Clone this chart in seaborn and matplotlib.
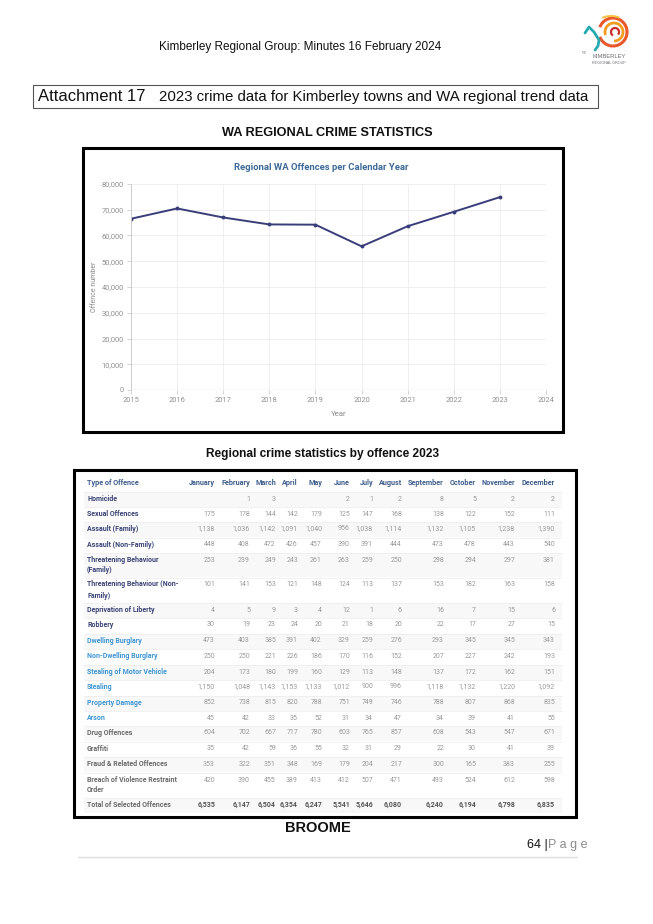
import matplotlib.pyplot as plt
import matplotlib.patches as mpatches
import seaborn as sb
import numpy as np
import pandas as pd

# --- data ---
years = [2015, 2016, 2017, 2018, 2019, 2020, 2021, 2022, 2023]
offences_per_year = [66500, 70500, 67000, 64300, 64200, 55800, 63600, 69200, 74900]

months = ['January', 'February', 'March', 'April', 'May', 'June', 'July',
          'August', 'September', 'October', 'November', 'December']
offence_types = ['Homicide', 'Sexual Offences', 'Assault (Family)', 'Assault (Non-Family)',
                 'Threatening Behaviour\n(Family)', 'Threatening Behaviour (Non-\nFamily)',
                 'Deprivation of Liberty', 'Robbery', 'Dwelling Burglary',
                 'Non-Dwelling Burglary', 'Stealing of Motor Vehicle', 'Stealing',
                 'Property Damage', 'Arson', 'Drug Offences', 'Graffiti',
                 'Fraud & Related Offences', 'Breach of Violence Restraint\nOrder',
                 'Total of Selected Offences']
homicide = [None, 1, 3, None, None, 2, 1, 2, 8, 5, 2, 2]
sexual = [175, 178, 144, 142, 179, 125, 147, 168, 138, 122, 152, 111]
assault_fam = [1138, 1036, 1142, 1091, 1040, 956, 1038, 1114, 1132, 1105, 1238, 1390]
assault_nonfam = [448, 408, 472, 426, 457, 390, 391, 444, 473, 478, 443, 540]
threat_fam = [253, 239, 249, 243, 261, 263, 259, 250, 298, 294, 297, 381]
threat_nonfam = [101, 141, 153, 121, 148, 124, 113, 137, 153, 182, 163, 158]
deprivation = [4, 5, 9, 3, 4, 12, 1, 6, 16, 7, 15, 6]
robbery = [30, 19, 23, 24, 20, 21, 18, 20, 22, 17, 27, 15]
dwelling = [473, 403, 385, 391, 402, 329, 259, 276, 293, 345, 345, 343]
non_dwelling = [250, 250, 221, 226, 186, 170, 116, 152, 207, 227, 242, 193]
motor_vehicle = [204, 173, 180, 199, 160, 129, 113, 148, 137, 172, 162, 151]
stealing = [1150, 1048, 1143, 1153, 1133, 1012, 900, 996, 1118, 1132, 1220, 1092]
property_damage = [852, 738, 815, 820, 788, 751, 749, 746, 788, 807, 868, 835]
arson = [45, 42, 33, 35, 52, 31, 34, 47, 34, 39, 41, 55]
drug = [604, 702, 667, 717, 780, 603, 765, 857, 608, 543, 547, 671]
graffiti = [35, 42, 59, 36, 55, 32, 31, 29, 22, 30, 41, 39]
fraud = [353, 322, 351, 348, 169, 179, 204, 217, 300, 165, 383, 255]
breach = [420, 390, 455, 389, 413, 412, 507, 471, 493, 524, 612, 598]
total = [6535, 6147, 6504, 6354, 6247, 5541, 5646, 6080, 6240, 6194, 6798, 6835]

tabel = pd.DataFrame([homicide, sexual, assault_fam, assault_nonfam, threat_fam, threat_nonfam,
                      deprivation, robbery, dwelling, non_dwelling, motor_vehicle, stealing,
                      property_damage, arson, drug, graffiti, fraud, breach, total],
                     index=offence_types, columns=months)

W, H = 653, 924
fig = plt.figure(figsize=(W / 100, H / 100), dpi=100)
sb.set_style('white')
plt.rcParams['font.family'] = ['Liberation Sans', 'DejaVu Sans']


def px_axes(x0, y0, x1, y1):
    return fig.add_axes([x0 / W, 1 - y1 / H, (x1 - x0) / W, (y1 - y0) / H])


def ftext(x, y, s, **kw):
    fig.text(x / W, 1 - y / H, s, **kw)


# --- page header ---
ftext(300, 47, 'Kimberley Regional Group: Minutes 16 February 2024', fontsize=8.5,
      ha='center', va='center', color='#111111')

# logo (rough drawing)
lg = px_axes(575, 10, 640, 72)
lg.set_xlim(0, 65)
lg.set_ylim(62, 0)
lg.set_aspect('equal')
lg.axis('off')
lg.add_patch(mpatches.Arc((38, 22), 28, 28, theta1=200, theta2=520, color='#e8582b', lw=2.2))
lg.add_patch(mpatches.Arc((39, 22), 18, 18, theta1=160, theta2=450, color='#f39c1f', lw=2))
lg.add_patch(mpatches.Arc((40, 22), 8, 8, theta1=120, theta2=400, color='#c9302c', lw=1.6))
lg.add_patch(mpatches.Arc((36, 11), 22, 10, theta1=200, theta2=340, color='#f6c342', lw=1.4))
lg.plot([10, 14, 19, 24, 23, 20], [23, 17, 22, 30, 36, 40], color='#27a9b0', lw=2)
lg.text(34, 47, 'KIMBERLEY', fontsize=4.2, color='#6d6e71', ha='center', va='center')
lg.text(34, 53, 'REGIONAL GROUP', fontsize=2.7, color='#6d6e71', ha='center', va='center')
lg.text(9, 43, 'THE', fontsize=1.8, color='#6d6e71', ha='center', va='center')

# attachment box
fig.patches.append(mpatches.Rectangle((33 / W, 1 - 108 / H), 565 / W, 23 / H,
                                      transform=fig.transFigure, fill=False,
                                      edgecolor='#555555', lw=0.8))
ftext(38, 96.5, 'Attachment 17', fontsize=12, ha='left', va='center', color='#111111')
ftext(159, 97, '2023 crime data for Kimberley towns and WA regional trend data', fontsize=10.8,
      ha='left', va='center', color='#111111')

ftext(327, 133, 'WA REGIONAL CRIME STATISTICS', fontsize=9.2, fontweight='bold',
      ha='center', va='center', color='#111111')

# --- chart box ---
fig.patches.append(mpatches.Rectangle((83 / W, 1 - 432 / H), 480 / W, 284 / H,
                                      transform=fig.transFigure, fill=False,
                                      edgecolor='black', lw=2.2))
ftext(321, 168, 'Regional WA Offences per Calendar Year', fontsize=6.8, fontweight='bold',
      family=['Roboto', 'DejaVu Sans'], ha='center', va='center', color='#3d6a98')

ax = px_axes(131, 184, 546, 390)
sb.lineplot(x=years, y=offences_per_year, ax=ax, color='#393d7a', marker='o', markersize=2.8,
            markeredgewidth=0, linewidth=1.4)
ax.set_xlim(2015, 2024)
ax.set_ylim(0, 80000)
ax.set_xticks(range(2015, 2025))
ax.set_yticks(range(0, 80001, 10000))
ax.set_yticklabels(['{:,}'.format(v) for v in range(0, 80001, 10000)])
ax.grid(True, color='#ececec', lw=0.6)
for s in ax.spines.values():
    s.set_visible(False)
ax.axhline(0, color='#cccccc', lw=0.9)
ax.axvline(2015, color='#cccccc', lw=0.7)
ax.tick_params(axis='both', labelsize=5.4, labelcolor='#909090', color='#cccccc',
               length=3, width=0.6, pad=2, left=True, bottom=True)
for lbl in ax.get_xticklabels() + ax.get_yticklabels():
    lbl.set_family(['Roboto', 'DejaVu Sans'])
ax.set_xlabel('Year', fontsize=5.6, color='#8a8a8a', labelpad=5, family=['Roboto', 'DejaVu Sans'])
ax.set_ylabel('Offence number', fontsize=5, color='#8a8a8a', labelpad=3,
              family=['Roboto', 'DejaVu Sans'])

ftext(322, 454, 'Regional crime statistics by offence 2023', fontsize=8.6, fontweight='bold',
      ha='center', va='center', color='#111111')

# --- table (image of a web table) ---
fig.patches.append(mpatches.Rectangle((74 / W, 1 - 817 / H), 502 / W, 347 / H,
                                      transform=fig.transFigure, fill=False,
                                      edgecolor='black', lw=2.2))
tb = px_axes(74, 470, 576, 817)
tb.set_xlim(74, 576)
tb.set_ylim(817, 470)
tb.axis('off')

col_right = [215, 250, 276, 298, 322, 350, 373, 402, 444, 476, 515, 555]
row_y = [499, 514, 529, 545, 560, 585, 610, 625, 641, 656, 672, 687, 703, 718, 733, 749,
         764, 780, 805]
label_cols = ['#3a4375'] * 8 + ['#3d96d4'] * 6 + ['#6a6a6a'] * 5
tfont = ['Roboto', 'DejaVu Sans']

tb.text(87, 483, 'Type of Offence', fontsize=5.2, fontweight='bold', color='#3d5d8c',
        ha='left', va='center', family=tfont)
for m, xr in zip(months, col_right):
    tb.text(xr, 483, m, fontsize=5.2, fontweight='bold', color='#3d5d8c', ha='right',
            va='center', family=tfont)
for i, (name, ry) in enumerate(zip(tabel.index, row_y)):
    last = i == len(row_y) - 1
    two_lines = '\n' in name
    line_top = ry - 7
    line_bot = ry + 17 if two_lines else ry + 8
    if i % 2 == 0:
        tb.add_patch(mpatches.Rectangle((84, line_top), 478, line_bot - line_top,
                                        color='#f8f8f8', lw=0))
    tb.plot([84, 562], [line_top, line_top], color='#ececec', lw=0.5)
    if two_lines:
        tb.text(87, ry - 4.5, name, fontsize=5.0, fontweight='bold', color=label_cols[i],
                ha='left', va='top', family=tfont, linespacing=1.5)
    else:
        tb.text(87, ry, name, fontsize=5.0, fontweight='bold', color=label_cols[i],
                ha='left', va='center', family=tfont)
    for m, xr in zip(months, col_right):
        v = tabel.loc[name, m]
        if pd.isna(v):
            continue
        tb.text(xr, ry, '{:,}'.format(int(v)), fontsize=5.0,
                fontweight='bold' if last else 'normal',
                color='#555555' if last else '#9a9a9a', ha='right', va='center', family=tfont)

# --- footer ---
ftext(318, 828, 'BROOME', fontsize=10.5, fontweight='bold', ha='center', va='center',
      color='#111111')
ftext(527, 845, '64 |', fontsize=9, ha='left', va='center', color='#111111')
ftext(548, 845, 'P a g e', fontsize=9, ha='left', va='center', color='#8c8c8c')
fig.add_artist(plt.Line2D([78 / W, 577 / W], [1 - 857 / H, 1 - 857 / H], color='#dddddd', lw=1))

fig.savefig('out.png', dpi=100)
